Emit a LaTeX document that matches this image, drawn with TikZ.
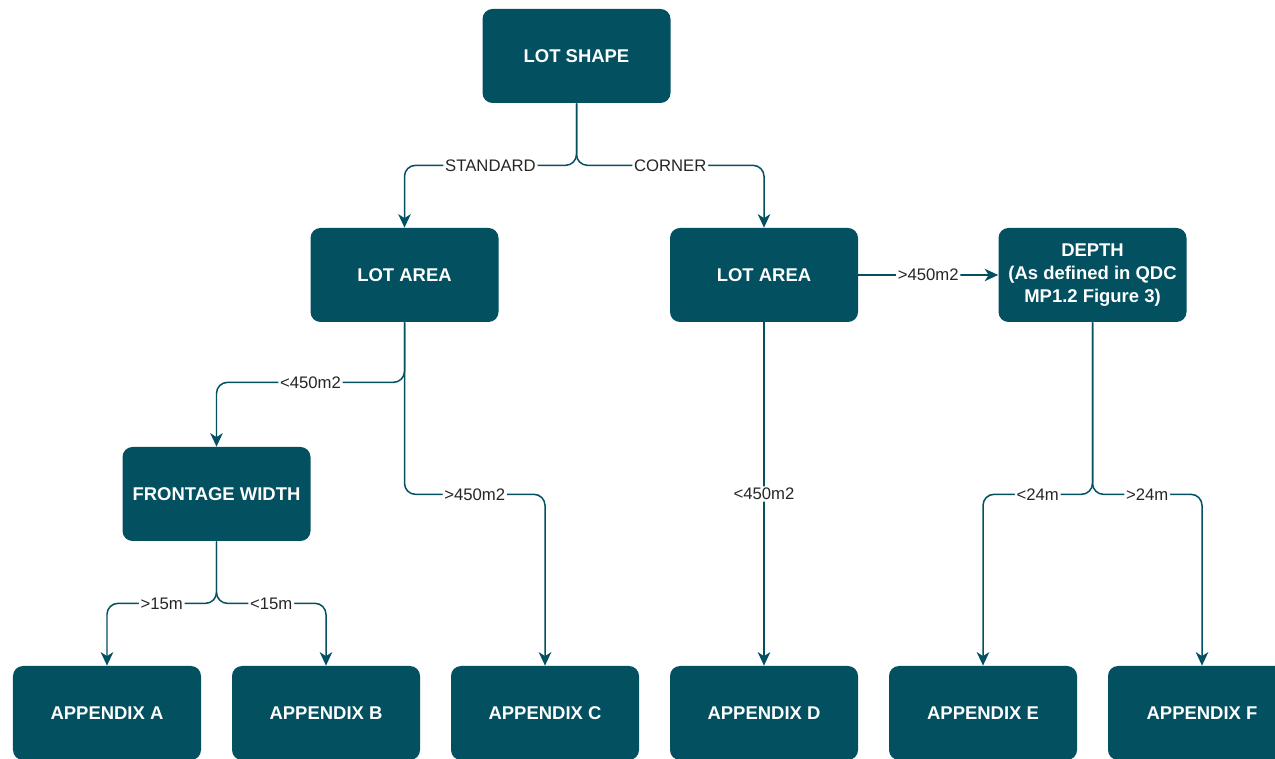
\documentclass[tikz,border=0pt]{standalone}
\usepackage{fontspec}
\setmainfont{Liberation Sans}
\usetikzlibrary{positioning, arrows.meta}
\definecolor{lotteal}{RGB}{2,80,96}

\begin{document}
\begin{tikzpicture}[node distance=4.38cm,
        box/.style={rectangle, rounded corners=0.2cm, fill=lotteal, text=white, inner sep=2pt,
            minimum width=3.76cm, minimum height=1.88cm, align=center,
            font=\fontsize{10.5}{13}\selectfont\bfseries},
        lbl/.style={fill=white, inner sep=1pt, text=black!85, font=\fontsize{9.5}{11}\selectfont},
        link/.style={draw=lotteal, line width=0.85pt, rounded corners=0.22cm,
            -{Stealth[length=2.7mm, width=2.5mm, inset=0.8mm]}}]
        \clip (-2.14,-0.9) rectangle (23.36,14.26);

        \node[box] (appa) {APPENDIX A};
        \node[box] (appb) [right of = appa] {APPENDIX B};
        \node[box] (appc) [right of = appb] {APPENDIX C};
        \node[box] (appd) [right of = appc] {APPENDIX D};
        \node[box] (appe) [right of = appd] {APPENDIX E};
        \node[box] (appf) [right of = appe] {APPENDIX F};

        \node[box] (front) [above of = appa, xshift=2.19cm] {FRONTAGE WIDTH};
        \node[box] (areal) [above of = front, xshift=3.76cm] {LOT AREA};
        \node[box] (arear) [above of = appd, node distance=8.76cm] {LOT AREA};
        \node[box] (depth) [above of = appe, node distance=8.76cm, xshift=2.19cm] {DEPTH\\(As defined in QDC\\MP1.2 Figure 3)};
        \node[box] (shape) [above of = areal, xshift=3.44cm] {LOT SHAPE};

        \draw[link] (shape.south) -- ++(0,-1.24) -| node[lbl, pos=0.25] {STANDARD} (areal.north);
        \draw[link] (shape.south) -- ++(0,-1.24) -| node[lbl, pos=0.25] {CORNER} (arear.north);
        \draw[link] (areal.south) -- ++(0,-1.2) -| node[lbl, pos=0.25] {<450m2} (front.north);
        \draw[link] (areal.south) -- ++(0,-3.44) -| node[lbl, pos=0.25] {>450m2} (appc.north);
        \draw[link] (arear) -- node[lbl] {>450m2} (depth);
        \draw[link] (arear) -- node[lbl] {<450m2} (appd);
        \draw[link] (front.south) -- ++(0,-1.24) -| node[lbl, pos=0.25] {>15m} (appa.north);
        \draw[link] (front.south) -- ++(0,-1.24) -| node[lbl, pos=0.25] {<15m} (appb.north);
        \draw[link] (depth.south) -- ++(0,-3.44) -| node[lbl, pos=0.25] {<24m} (appe.north);
        \draw[link] (depth.south) -- ++(0,-3.44) -| node[lbl, pos=0.25] {>24m} (appf.north);
    \end{tikzpicture}
\end{document}
